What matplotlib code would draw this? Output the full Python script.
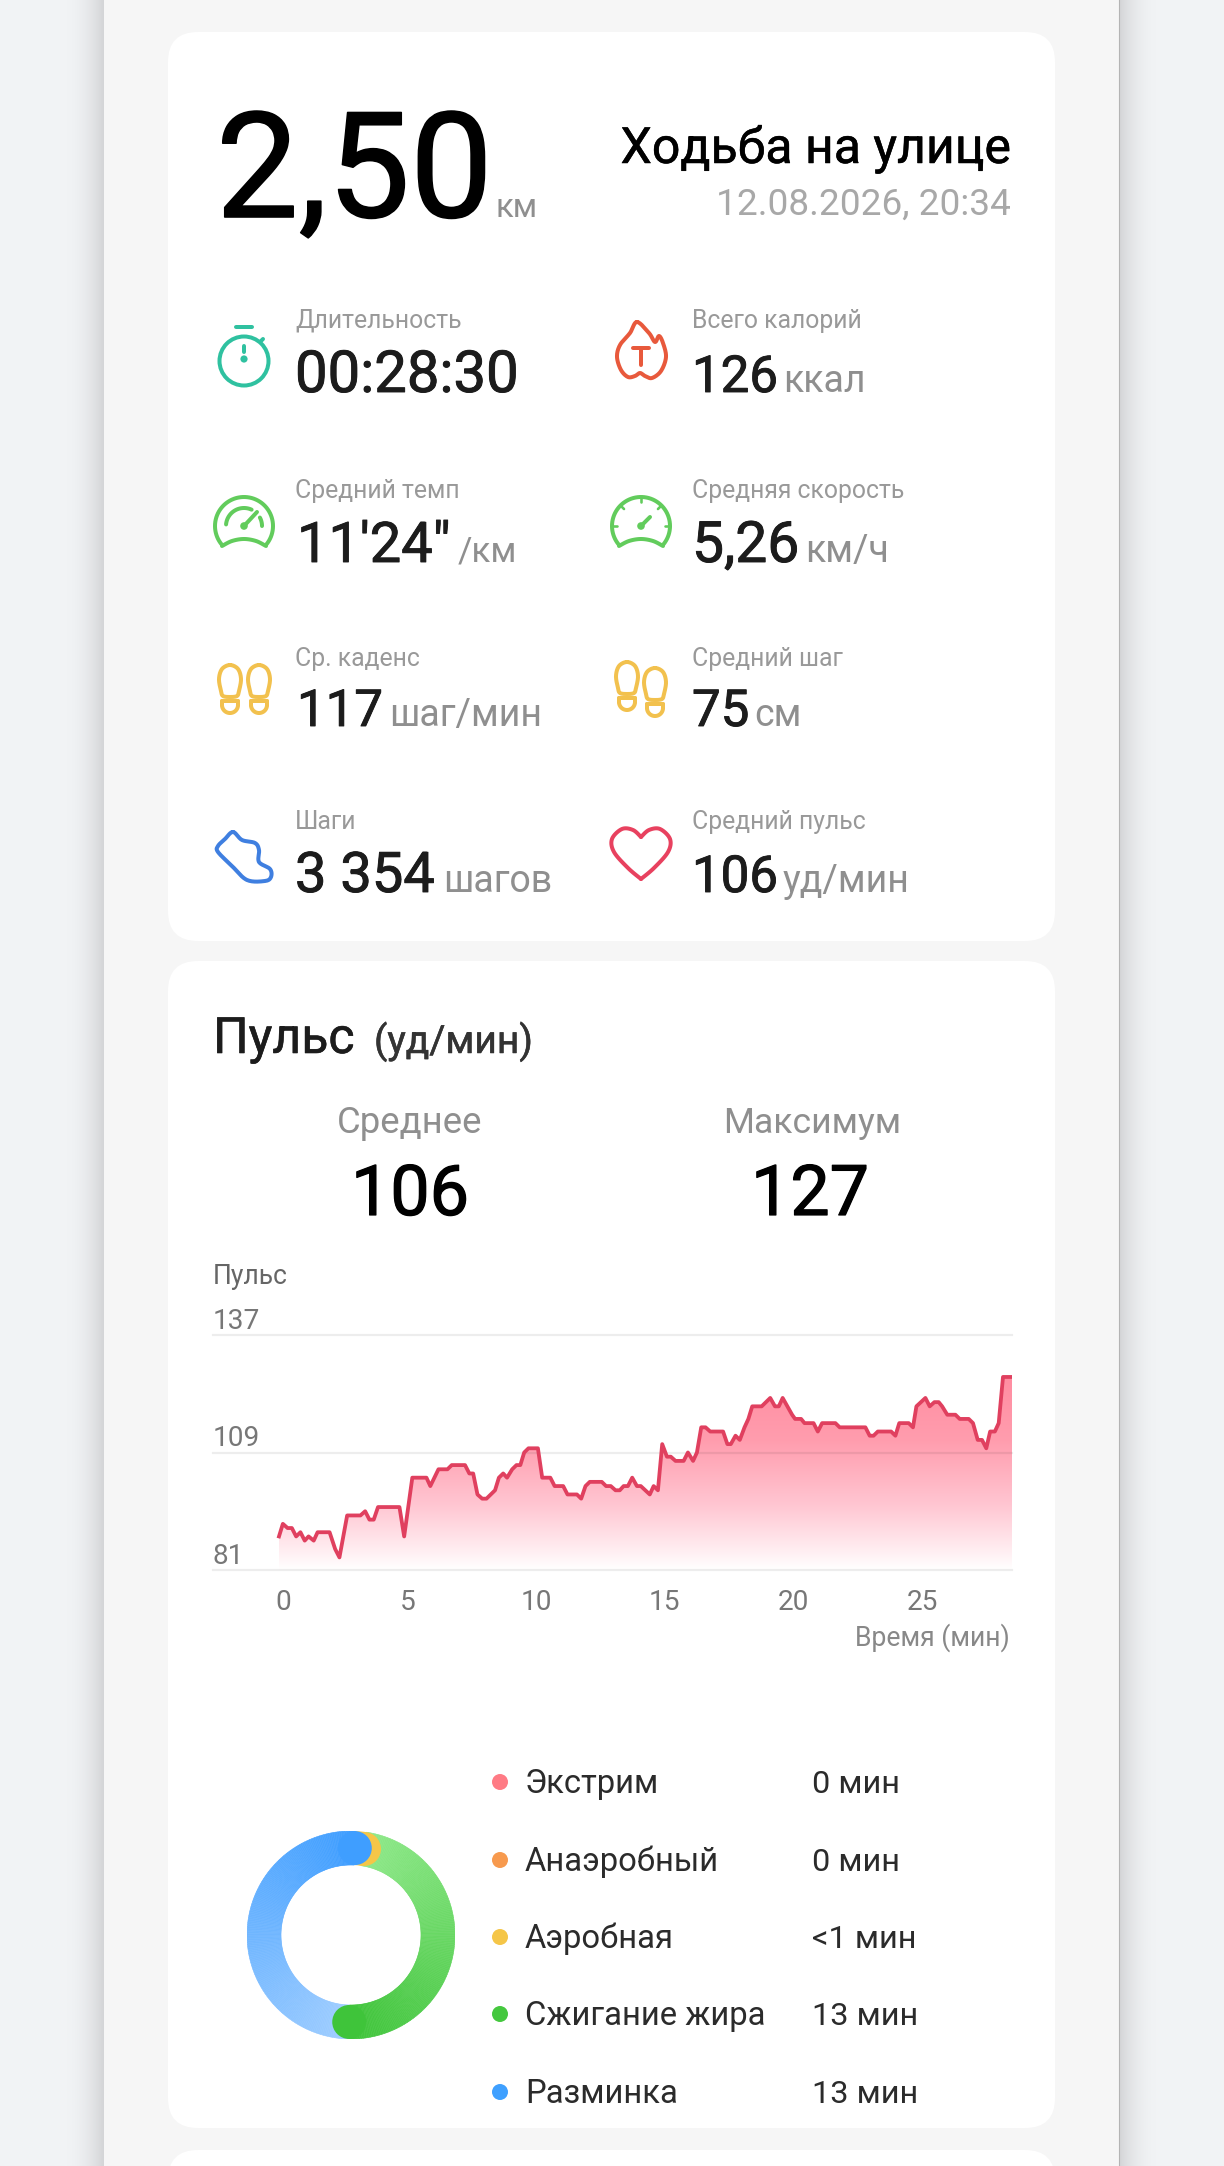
"""Workout summary screen: stats card, heart rate chart and zone donut."""

import numpy as np
import matplotlib
matplotlib.use("Agg")
import matplotlib.pyplot as plt
import matplotlib.patheffects as pe
from matplotlib.colors import LinearSegmentedColormap, to_rgb
from matplotlib.patches import Circle, FancyBboxPatch, Wedge
from matplotlib.transforms import ScaledTranslation

plt.rcParams["font.family"] = ["Roboto", "DejaVu Sans"]

W, H = 1224, 2166

# heart rate
time_s = [0, 9, 20, 30, 40, 50, 60, 69, 81, 90, 118, 131, 141, 159, 190, 201, 211, 221, 231, 281,
          292, 311, 344, 353, 372, 393, 403, 434, 444, 453, 463, 474, 484, 504, 513, 523, 532, 544,
          554, 563, 572, 582, 604, 614, 633, 643, 663, 673, 695, 705, 715, 725, 753, 763, 774, 785,
          795, 804, 814, 824, 835, 844, 865, 874, 884, 894, 905, 914, 925, 944, 954, 966, 975, 985,
          995, 1006, 1036, 1046, 1054, 1065, 1075, 1086, 1095, 1104, 1126, 1146, 1157, 1166, 1175,
          1197, 1204, 1218, 1226, 1247, 1257, 1267, 1298, 1308, 1368, 1378, 1387, 1397, 1428, 1438,
          1447, 1469, 1479, 1487, 1508, 1518, 1529, 1539, 1547, 1559, 1578, 1588, 1609, 1619, 1630,
          1640, 1650, 1659, 1670, 1679, 1689, 1710]
bpm = [89, 92, 91, 91, 89, 90, 88, 89, 88, 90, 90, 86, 84, 94, 94, 95, 93, 93, 96, 96,
       89, 103, 103, 101, 105, 105, 106, 106, 104, 104, 99, 98, 98, 100, 103, 104, 103, 105,
       106, 106, 109, 110, 110, 103, 103, 101, 101, 99, 99, 98, 101, 102, 102, 101, 101, 100,
       100, 101, 101, 103, 101, 101, 99, 101, 100, 111, 108, 108, 107, 107, 109, 107, 109, 115,
       115, 114, 114, 111, 111, 113, 112, 115, 117, 120, 120, 122, 120, 120, 122,
       118, 117, 117, 116, 116, 114, 116, 116, 115, 115, 113, 113, 114, 114, 113,
       116, 116, 115, 120, 122, 120, 121, 121, 120, 118, 118, 117, 117, 116, 112,
       112, 110, 114, 114, 116, 127, 127]
bpm_ticks = [81, 109, 137]
minute_ticks = [0, 5, 10, 15, 20, 25]

zone_names = ["Экстрим", "Анаэробный", "Аэробная", "Сжигание жира", "Разминка"]
zone_labels = ["0 мин", "0 мин", "<1 мин", "13 мин", "13 мин"]
aerobic_min = 0.45
fat_burn_min = 12.8
warmup_min = 13.45

stat_labels = ["Длительность", "Всего калорий", "Средний темп", "Средняя скорость",
               "Ср. каденс", "Средний шаг", "Шаги", "Средний пульс"]
stat_values = ["00:28:30", "126", "11'24\"", "5,26", "117", "75", "3 354", "106"]
stat_units = ["", "ккал", "/км", "км/ч", "шаг/мин", "см", "шагов", "уд/мин"]
value_size = [58, 51, 56, 57, 51, 51, 56, 51]
value_x = [295, 692, 297, 692, 297, 692, 295, 692]
unit_x = [0, 783, 458, 805, 389, 754, 443, 783]
unit_size = [0, 37.5, 35, 37.5, 37.5, 37.5, 37.5, 37.5]
label_base = [328, 498, 666, 829]
value_base = [392, 562, 726, 892]

GREY = "#8f8f8f"
DARK = "#1c1c1c"
ZONE_COLORS = ["#ff7b85", "#f79a4e", "#f5c648", "#45c83f", "#3fa0ff"]


def pt(px):
    return px * 0.72


fig = plt.figure(figsize=(W / 100, H / 100), dpi=100, facecolor="#f1f3f5")
ui = fig.add_axes([0, 0, 1, 1])
ui.set_xlim(0, W)
ui.set_ylim(H, 0)
ui.axis("off")


def txt(x, y, s, size, color=DARK, ha="left", stroke=0):
    t = ui.text(x, y, s, fontsize=pt(size), color=color, ha=ha, va="baseline")
    if stroke:
        # fake a medium weight, the real one comes out too heavy
        t.set_path_effects([pe.withStroke(linewidth=pt(stroke), foreground=color)])


def line(xs, ys, color, lw=4.0):
    ui.plot(xs, ys, color=color, lw=pt(lw), solid_capstyle="round", solid_joinstyle="round")


def arc(cx, cy, r, a0, a1, color, lw=4.0):
    a = np.radians(np.linspace(a0, a1, 60))
    line(cx + r * np.cos(a), cy - r * np.sin(a), color, lw)


def smooth(points, color, closed=True, lw=4.0):
    # catmull-rom through the outline points
    p = np.array(points, float)
    if closed:
        p = np.vstack([p[-1], p, p[0], p[1]])
    else:
        p = np.vstack([p[0], p, p[-1]])
    out = []
    for i in range(1, len(p) - 2):
        for t in np.linspace(0, 1, 16):
            out.append(0.5 * (2 * p[i] + (p[i + 1] - p[i - 1]) * t
                              + (2 * p[i - 1] - 5 * p[i] + 4 * p[i + 1] - p[i + 2]) * t ** 2
                              + (3 * p[i] - p[i - 1] - 3 * p[i + 1] + p[i + 2]) * t ** 3))
    out = np.array(out)
    line(out[:, 0], out[:, 1], color, lw)


def card(y0, y1):
    ui.add_patch(FancyBboxPatch((168, y0), 887, y1 - y0, boxstyle="round,pad=0,rounding_size=30",
                                fc="white", ec="none"))


# panel and the shadow either side of it
shadow = LinearSegmentedColormap.from_list("shadow", ["#f1f3f5", "#d4d5d7"])
ui.imshow(np.linspace(0, 1, 40).reshape(1, -1) ** 2, cmap=shadow, extent=[64, 104, H, 0], aspect="auto")
ui.imshow(np.linspace(1, 0, 40).reshape(1, -1) ** 2, cmap=shadow, extent=[1119, 1159, H, 0], aspect="auto")
ui.axvspan(104, 1119, color="#f6f6f6", lw=0)
ui.plot([1119, 1119], [0, H], color="#b4b4b4", lw=0.8)
ui.set_xlim(0, W)
ui.set_ylim(H, 0)
card(32, 941)
card(961, 2128)
card(2150, 2300)
ui.set_ylim(H, 0)

# header
txt(216, 217, "2,50", 147, "black", stroke=1.6)
txt(496, 217, "км", 33, GREY)
txt(1011, 163, "Ходьба на улице", 50, "black", ha="right", stroke=0.5)
txt(1011, 215, "12.08.2026, 20:34", 37, "#a8a8a8", ha="right")

# stat grid
for i in range(8):
    row = i // 2
    txt(295 if i % 2 == 0 else 692, label_base[row], stat_labels[i], 24.8, "#999999")
    txt(value_x[i], value_base[row], stat_values[i], value_size[i], DARK, stroke=0.9)
    if stat_units[i]:
        txt(unit_x[i], value_base[row], stat_units[i], unit_size[i], GREY)

# stopwatch
c = "#2fc1a0"
ui.add_patch(Circle((244, 361), 24.5, fc="none", ec=c, lw=pt(4)))
line([236, 252], [327, 327], c)
line([244, 244], [346, 352], c)
line([261, 263], [341, 339], c)
ui.add_patch(Circle((244, 359), 3.6, fc=c, ec="none"))

# flame
c = "#e8593c"
smooth([(637, 322), (630, 333), (620, 345), (617, 357), (621, 370), (628, 377), (635, 376),
        (640, 373), (645, 376), (652, 378), (661, 371), (666, 357), (663, 343), (659, 336),
        (655, 342), (649, 333)], c)
line([633, 649], [348, 348], c)
line([641, 641], [348, 365], c)

# gauges
c = "#62cc5c"
for cx in (244, 641):
    arc(cx, 526, 29, -40, 220, c)
    smooth([(cx - 22, 546), (cx - 12, 541), (cx, 539), (cx + 12, 541), (cx + 22, 546)], c, closed=False)
    ui.add_patch(Circle((cx, 526), 3.8, fc=c, ec="none"))
arc(244, 526, 18, 65, 175, c)
arc(244, 526, 18, 0, 28, c)
line([244, 257], [526, 512], c)
for a in (0, 45, 90, 135, 180):
    r = np.radians(a)
    line([641 + 29 * np.cos(r), 641 + 24 * np.cos(r)], [526 - 29 * np.sin(r), 526 - 24 * np.sin(r)], c, 2.6)
line([641, 650], [526, 517], c)

# footprints
c = "#f2c14e"


def foot(cx, y0):
    smooth([(cx, y0), (cx + 8, y0 + 4), (cx + 11, y0 + 14), (cx + 9, y0 + 26), (cx + 7, y0 + 31),
            (cx, y0 + 32), (cx - 7, y0 + 31), (cx - 9, y0 + 26), (cx - 11, y0 + 14), (cx - 8, y0 + 4)], c)
    line([cx - 8, cx + 8], [y0 + 36, y0 + 36], c)
    line([cx - 8, cx - 8], [y0 + 36, y0 + 40], c)
    line([cx + 8, cx + 8], [y0 + 36, y0 + 40], c)
    arc(cx, y0 + 40, 8, 180, 360, c)


foot(230, 665)
foot(259, 665)
foot(627, 662)
foot(655, 668)

# shoe
smooth([(233, 832), (225, 839), (218, 846), (218, 852), (232, 866), (247, 880), (265, 881),
        (271, 877), (270, 869), (259, 862), (259, 850), (255, 843), (242, 840)], "#3f7fe0")

# heart
c = "#e8415f"
smooth([(641, 837), (633, 830), (622, 829), (612, 839), (614, 852), (628, 868), (641, 879)], c, closed=False)
smooth([(641, 837), (649, 830), (660, 829), (670, 839), (668, 852), (654, 868), (641, 879)], c, closed=False)

# heart rate card headings
txt(213, 1053, "Пульс", 50, DARK, stroke=0.6)
txt(374, 1053, "(уд/мин)", 39, "#333333", stroke=0.5)
txt(410, 1133, "Среднее", 36.5, GREY, ha="center")
txt(812, 1133, "Максимум", 35.5, GREY, ha="center")
txt(410, 1215, "106", 70, "black", ha="center", stroke=1.2)
txt(810, 1215, "127", 70, "black", ha="center", stroke=1.2)

# heart rate chart, x0 px is 279 and 25.72 px is one minute
minutes = np.array(time_s) / 60
left_min = -(279 - 213) / 25.72
ax = fig.add_axes([213 / W, 1 - 1570 / H, (1012 - 213) / W, (1570 - 1335) / H], facecolor="none")
ax.set_xlim(left_min, 28.5)
ax.set_ylim(bpm_ticks[0], bpm_ticks[-1])
for s in ax.spines.values():
    s.set_visible(False)
ax.set_yticks(bpm_ticks)
ax.set_xticks(minute_ticks)
ax.tick_params(axis="y", length=0, pad=0, labelsize=pt(28), labelcolor="#777777")
ax.tick_params(axis="x", length=0, pad=14, labelsize=pt(28), labelcolor="#777777")
for lab in ax.get_yticklabels():
    lab.set_ha("left")
    lab.set_va("bottom")
# the first label sits a little right of its tick
first = ax.get_xticklabels()[0]
first.set_transform(first.get_transform() + ScaledTranslation(0.04, 0, fig.dpi_scale_trans))
ax.set_title("Пульс", loc="left", fontsize=pt(26.5), color="#666666", pad=37)
ax.set_xlabel("Время (мин)", loc="right", fontsize=pt(26.5), color="#888888", labelpad=5)
ax.xaxis.get_label().set_x(0.997)
ax.grid(axis="y", color="black", alpha=0.07, lw=pt(2.2), clip_on=False, zorder=2)
ax.set_axisbelow(False)

pink = LinearSegmentedColormap.from_list("pink", ["#ffffff", "#ffc6d2", "#ff9dae", "#ff8da1"])
area = ax.fill_between(minutes, bpm_ticks[0], bpm, color="none")
img = ax.imshow(np.linspace(1, 0, 256).reshape(-1, 1), cmap=pink, extent=[0, 28.5, 81, 127],
                aspect="auto", zorder=1.5)
img.set_clip_path(area.get_paths()[0], transform=ax.transData)
ax.plot(minutes, bpm, color="#e0405f", lw=pt(3.8), zorder=3, solid_joinstyle="round")
ax.set_xlim(left_min, 28.5)
ax.set_ylim(bpm_ticks[0], bpm_ticks[-1])

# zone legend
legend_y = [1782, 1860, 1937, 2014, 2092]
for name, label, col, y in zip(zone_names, zone_labels, ZONE_COLORS, legend_y):
    ui.add_patch(Circle((500, y), 8, fc=col, ec="none"))
    txt(525, y + 11, name, 32.8, "#2b2b2b")
    txt(812, y + 11, label, 32.5, "#2b2b2b")

# zone donut
don = fig.add_axes([(351 - 104) / W, 1 - (1935 + 104) / H, 208 / W, 208 / H], facecolor="none")
don.set_xlim(-1, 1)
don.set_ylim(-1, 1)
don.set_aspect("equal")
don.axis("off")

WIDTH = 0.327
MID = 1 - WIDTH / 2
total = aerobic_min + fat_burn_min + warmup_min
per_min = 360 / total
offset = 2.5
aerobic_end = offset + aerobic_min * per_min
fat_end = aerobic_end + fat_burn_min * per_min
warm_end = fat_end + warmup_min * per_min


def cap_at(angle, color):
    r = np.radians(90 - angle)
    don.add_patch(Circle((MID * np.cos(r), MID * np.sin(r)), WIDTH / 2, fc=color, ec="none"))


def sweep(a0, a1, c0, c1):
    c0, c1 = np.array(to_rgb(c0)), np.array(to_rgb(c1))
    steps = np.linspace(a0, a1, int(a1 - a0) + 2)
    for j in range(len(steps) - 1):
        col = c0 + (c1 - c0) * j / (len(steps) - 2)
        don.add_patch(Wedge((0, 0), 1, 90 - steps[j + 1], 90 - steps[j], width=WIDTH, fc=col, ec=col, lw=0.4))


sweep(aerobic_end, fat_end, "#8fe98a", "#3fc43a")
don.add_patch(Wedge((0, 0), 1, 90 - aerobic_end, 90 - offset, width=WIDTH, fc="#f5c648", ec="none"))
cap_at(aerobic_end, "#f5c648")
sweep(fat_end, warm_end, "#a0ceff", "#3f9eff")
cap_at(warm_end, "#3f9eff")
cap_at(fat_end, "#3fc43a")

fig.savefig("out.png", dpi=100)
